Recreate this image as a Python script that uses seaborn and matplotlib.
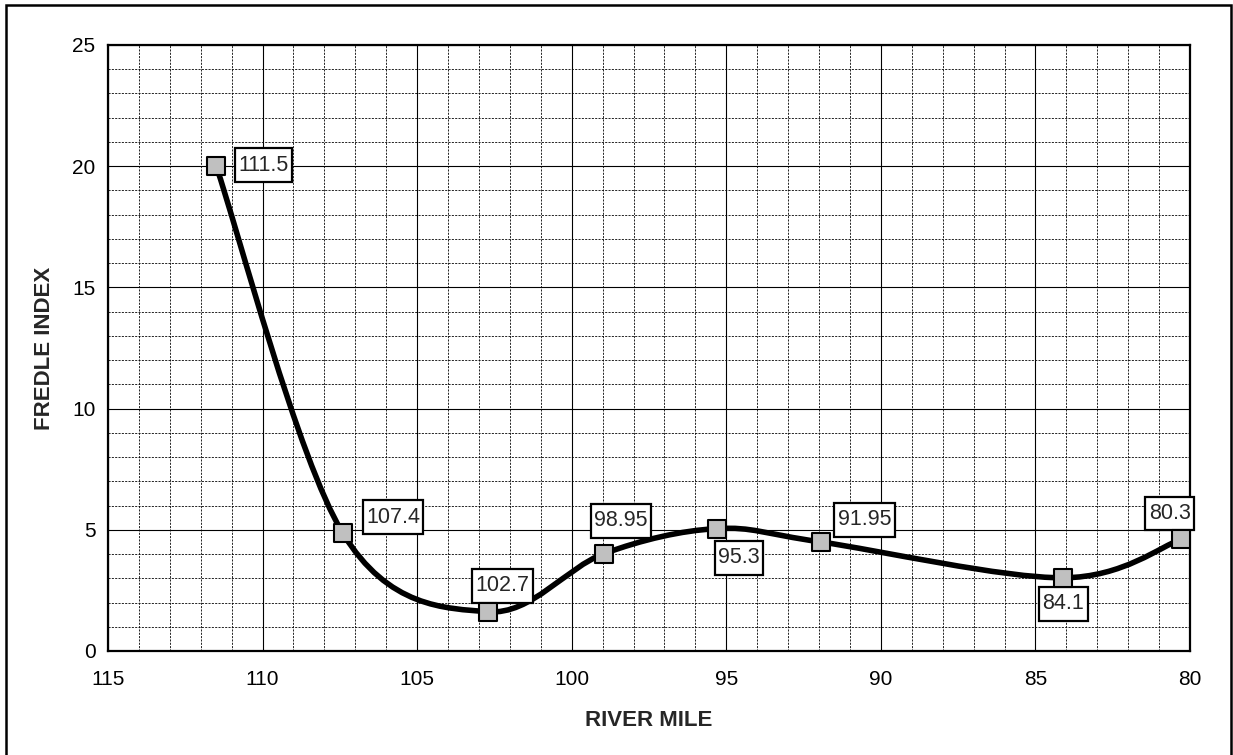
import matplotlib
matplotlib.use('Agg')

import matplotlib.pyplot as plt
import seaborn as sns
from matplotlib.path import Path
from matplotlib.patches import PathPatch, Rectangle
from matplotlib.ticker import MultipleLocator


# ---------------------------------------------------
# Data
# ---------------------------------------------------

river_mile = [111.5, 107.4, 102.7, 98.95, 95.3, 91.95, 84.1, 80.3]
fredle_index = [20.0, 4.85, 1.62, 4.02, 5.05, 4.5, 3.02, 4.6]
point_labels = ['111.5', '107.4', '102.7', '98.95', '95.3', '91.95', '84.1', '80.3']

# label box offsets (pixels, from the point)
label_offsets = [(47, 1), (50, 16), (14, 26), (17, 33),
                 (22, -29), (44, 22), (0, -26), (-11, 26)]


# ---------------------------------------------------
# Smoothed line (Excel-like Bezier through the points)
# ---------------------------------------------------

def smooth_path(xs, ys):
    pts = list(zip(xs, ys))
    n = len(pts)
    verts = [pts[0]]
    codes = [Path.MOVETO]
    for i in range(n - 1):
        p0 = pts[i - 1] if i > 0 else pts[i]
        p1 = pts[i]
        p2 = pts[i + 1]
        p3 = pts[i + 2] if i + 2 < n else pts[i + 1]
        c1 = (p1[0] + (p2[0] - p0[0]) / 6, p1[1] + (p2[1] - p0[1]) / 6)
        c2 = (p2[0] - (p3[0] - p1[0]) / 6, p2[1] - (p3[1] - p1[1]) / 6)
        verts += [c1, c2, p2]
        codes += [Path.CURVE4] * 3
    return Path(verts, codes)


# label box: a bit more room above/below than at the sides
def label_box(x0, y0, width, height, mutation_size):
    px = 0.16 * mutation_size
    py = 0.3 * mutation_size
    x0, y0 = x0 - px, y0 - py
    x1, y1 = x0 + width + 2 * px, y0 + height + 2 * py
    return Path([(x0, y0), (x1, y0), (x1, y1), (x0, y1), (x0, y0)], closed=True)


# ---------------------------------------------------
# Plot
# ---------------------------------------------------

sns.set_style('white')
plt.rcParams['font.family'] = ['Liberation Sans', 'DejaVu Sans']

fig = plt.figure(figsize=(12.33, 7.55), dpi=100)
ax = fig.add_axes([108 / 1233, 104 / 755, 1082 / 1233, 606 / 755])

ax.set_xlim(115, 80)
ax.set_ylim(0, 25)

ax.xaxis.set_major_locator(MultipleLocator(5))
ax.xaxis.set_minor_locator(MultipleLocator(1))
ax.yaxis.set_major_locator(MultipleLocator(5))
ax.yaxis.set_minor_locator(MultipleLocator(1))

ax.grid(which='major', color='black', linewidth=0.8, linestyle='-')
ax.grid(which='minor', color='black', linewidth=0.6, linestyle=(0, (2.5, 1.5)))
ax.set_axisbelow(True)

for sp in ax.spines.values():
    sp.set_color('black')
    sp.set_linewidth(1.6)

ax.tick_params(which='major', direction='out', length=5, width=1.5,
               colors='black', labelsize=15)
ax.tick_params(axis='x', which='major', pad=9)
ax.tick_params(axis='y', which='major', pad=4)
ax.tick_params(which='minor', length=0)

ax.add_patch(PathPatch(smooth_path(river_mile, fredle_index),
                       fill=False, edgecolor='black', linewidth=4,
                       capstyle='round', joinstyle='round', zorder=3))

for x, y, lab, (dx, dy) in zip(river_mile, fredle_index, point_labels, label_offsets):
    ax.annotate(
        lab,
        xy=(x, y),
        xytext=(dx, dy),
        textcoords='offset pixels',
        ha='center',
        va='center',
        fontsize=15.5,
        bbox=dict(boxstyle=label_box, facecolor='white',
                  edgecolor='black', linewidth=1.6),
        zorder=4
    )

sns.scatterplot(
    x=river_mile,
    y=fredle_index,
    marker='s',
    s=175,
    color='#C0C0C0',
    edgecolor='black',
    linewidth=1.5,
    zorder=6,
    ax=ax
)

ax.set_xlabel('RIVER MILE', fontsize=16, fontweight='bold')
ax.set_ylabel('FREDLE INDEX', fontsize=16, fontweight='bold')
ax.xaxis.label.set_va('center')
ax.yaxis.label.set_va('center')
ax.xaxis.set_label_coords(0.5, (651 - 720) / 606)
ax.yaxis.set_label_coords((45 - 108) / 1082, 0.5)

# outer chart frame
fig.patches.append(Rectangle((6 / 1233, -0.01), (1231 - 6) / 1233, (750 / 755) + 0.01,
                             transform=fig.transFigure, fill=False,
                             edgecolor='black', linewidth=1.8))

plt.savefig('out.png', dpi=100)
plt.close()
